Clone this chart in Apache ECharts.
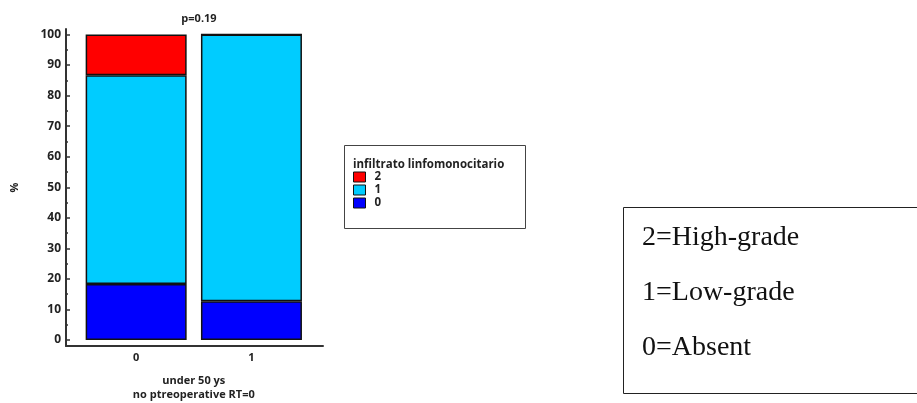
<!DOCTYPE html>
<html>
<head>
<meta charset="utf-8">
<script src="https://cdn.jsdelivr.net/npm/echarts@6/dist/echarts.min.js"></script>
<style>
  html, body { margin: 0; padding: 0; background: #fff; }
  #chart { width: 917px; height: 403px; }
</style>
</head>
<body>
<div id="chart"></div>
<script>
// Groups on the x axis and the stacked percentages per grade
const groupLabels = ['0', '1'];
const grade0 = [18.3, 12.7];   // Absent
const grade1 = [68.4, 87.3];   // Low-grade
const grade2 = [13.3, 0];      // High-grade
const yTicks = [0, 10, 20, 30, 40, 50, 60, 70, 80, 90, 100];
const yMinorTicks = [5, 15, 25, 35, 45, 55, 65, 75, 85, 95];
const gradeNames = ['2', '1', '0'];
const keyLines = ['2=High-grade', '1=Low-grade', '0=Absent'];

const colors = { '2': '#ff0000', '1': '#00ccff', '0': '#0000ff' };
const FONT = 'Open Sans, Liberation Sans, sans-serif';
const bold = { fontFamily: FONT, fontWeight: 'bold', color: '#222' };

const chart = echarts.init(document.getElementById('chart'), null, { renderer: 'canvas' });

// value range shared by the frame axis and the bar axis (0 sits a little above the x axis line)
const Y_MIN = -1.96, Y_MAX = 101.8;
const TOP = 29, HEIGHT = 317;

function barSeries(name, values) {
  return {
    name: name,
    type: 'bar',
    stack: 'total',
    barWidth: 101,
    xAxisIndex: 1,
    yAxisIndex: 2,
    itemStyle: { color: colors[name], borderColor: '#111', borderWidth: 1.5 },
    data: values
  };
}

chart.setOption({
  animation: false,
  title: [
    { text: 'p=0.19', left: 194, top: 8, textAlign: 'center',
      textStyle: Object.assign({ fontSize: 11 }, bold) },
    { text: 'infiltrato linfomonocitario', left: 353, top: 159, padding: 0,
      textStyle: Object.assign({ fontSize: 11.5 }, bold) }
  ],
  legend: {
    orient: 'vertical',
    left: 353, top: 171, padding: 0,
    itemWidth: 12, itemHeight: 10, itemGap: 1,
    icon: 'rect',
    data: gradeNames,
    itemStyle: { borderColor: '#111', borderWidth: 1 },
    textStyle: Object.assign({ fontSize: 11.5, padding: [0, 0, 0, 4] }, bold)
  },
  grid: [
    // frame: axis lines, y ticks and labels
    { left: 66, top: TOP, width: 257, height: HEIGHT, containLabel: false, outerBoundsMode: 'none' },
    // plotting band for the two bars
    { left: 78.5, top: TOP, width: 230.6, height: HEIGHT, containLabel: false, outerBoundsMode: 'none' }
  ],
  xAxis: [
    {
      gridIndex: 0, type: 'value', min: 0, max: 1,
      splitLine: { show: false },
      axisLine: { show: true, onZero: false, lineStyle: { color: '#333', width: 2 } },
      axisTick: { show: false },
      axisLabel: { show: false }
    },
    {
      gridIndex: 1, type: 'category', data: groupLabels,
      axisLine: { show: false },
      axisTick: { show: false },
      axisLabel: { margin: 6, fontSize: 11, fontFamily: FONT, fontWeight: 'bold', color: '#222' },
      name: 'under 50 ys\nno ptreoperative RT=0',
      nameLocation: 'middle',
      nameGap: 28,
      nameTextStyle: Object.assign({ fontSize: 11, lineHeight: 14, align: 'center' }, bold)
    }
  ],
  yAxis: [
    {
      gridIndex: 0, type: 'value', min: Y_MIN, max: Y_MAX,
      splitLine: { show: false },
      axisLine: { show: true, onZero: false, lineStyle: { color: '#333', width: 2 } },
      axisTick: { show: true, inside: true, length: 4, customValues: yTicks, lineStyle: { color: '#333', width: 1.5 } },
      axisLabel: { customValues: yTicks, margin: 5, fontSize: 12, fontFamily: FONT, fontWeight: 'bold', color: '#222' },
      name: '%',
      nameLocation: 'middle',
      nameRotate: 90,
      nameGap: 46,
      nameTextStyle: Object.assign({ fontSize: 11 }, bold)
    },
    {
      gridIndex: 0, type: 'value', min: Y_MIN, max: Y_MAX,
      position: 'left',
      splitLine: { show: false },
      axisLine: { show: false, onZero: false },
      axisLabel: { show: false },
      axisTick: { show: true, inside: true, length: 2, customValues: yMinorTicks, lineStyle: { color: '#333', width: 1.5 } }
    },
    {
      gridIndex: 1, type: 'value', min: Y_MIN, max: Y_MAX,
      position: 'left',
      splitLine: { show: false },
      axisLine: { show: false, onZero: false },
      axisTick: { show: false },
      axisLabel: { show: false }
    }
  ],
  graphic: [
    { type: 'rect', shape: { x: 344.5, y: 145.5, width: 181, height: 83 },
      style: { fill: 'none', stroke: '#444', lineWidth: 1 }, z: -1 },
    { type: 'rect', shape: { x: 623.5, y: 207.5, width: 300, height: 186 },
      style: { fill: 'none', stroke: '#222', lineWidth: 1 } },
    ...keyLines.map((t, i) => ({
      type: 'text', x: 642, y: 238 + i * 55,
      style: { text: t, font: '28px "Liberation Serif", "Times New Roman", serif',
        fill: '#111', verticalAlign: 'middle' }
    }))
  ],
  series: [
    barSeries('0', grade0),
    barSeries('1', grade1),
    barSeries('2', grade2)
  ]
});
</script>
</body>
</html>
